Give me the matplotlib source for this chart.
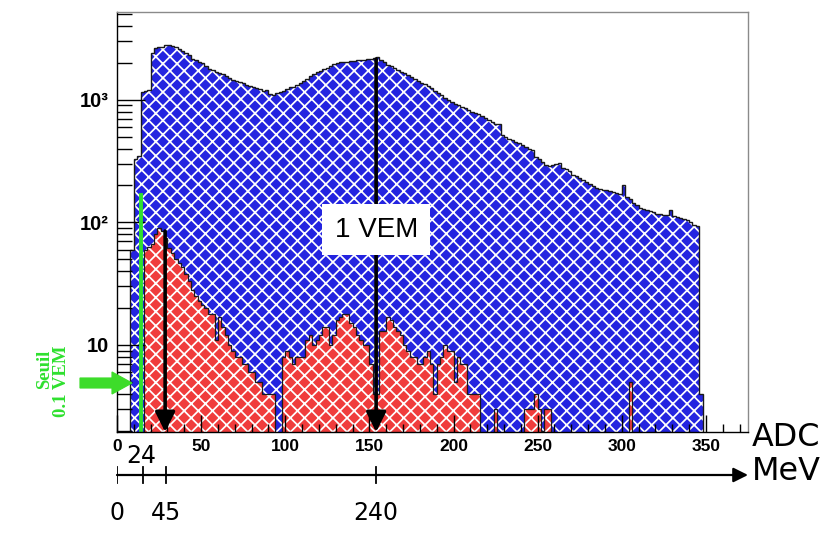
import numpy as np
import matplotlib
matplotlib.use("Agg")
import matplotlib.pyplot as plt
from matplotlib.patches import FancyArrow
from matplotlib.ticker import FixedLocator, MultipleLocator, NullFormatter

# histogram data, bins of 2 ADC
bin_width = 2
blue_start = 8
blue_counts = [
    60, 330, 350, 1150, 1180, 1200, 2420, 2650, 2700, 2710,
    2800, 2810, 2750, 2700, 2600, 2500, 2400, 2300, 2150, 2100,
    2050, 1980, 1900, 1780, 1740, 1700, 1660, 1620, 1560, 1500,
    1460, 1430, 1390, 1370, 1330, 1300, 1270, 1240, 1220, 1180,
    1200, 1120, 1100, 1130, 1160, 1190, 1230, 1260, 1280, 1330,
    1360, 1420, 1480, 1550, 1620, 1680, 1720, 1780, 1830, 1900,
    1950, 2000, 2040, 2040, 2050, 2060, 2060, 2100, 2110, 2130,
    2140, 2150, 2200, 2230, 2100, 2020, 1930, 1870, 1800, 1760,
    1700, 1650, 1600, 1540, 1480, 1430, 1380, 1340, 1300, 1240,
    1190, 1130, 1090, 1040, 1000, 960, 930, 910, 880, 860,
    830, 800, 780, 760, 740, 710, 680, 660, 640, 630,
    520, 500, 480, 470, 450, 440, 430, 410, 400, 390,
    340, 330, 310, 295, 290, 295, 300, 305, 280, 275,
    260, 245, 240, 230, 222, 212, 205, 198, 192, 188,
    184, 182, 180, 178, 172, 170, 200, 160, 155, 145,
    138, 130, 128, 126, 124, 122, 118, 116, 115, 114,
    126, 112, 110, 108, 106, 104, 100, 96, 94, 4,
]
red_start = 16
red_counts = [
    60, 63, 66, 80, 90, 85, 75, 62, 56, 50,
    47, 43, 38, 33, 28, 25, 23, 21, 20, 18,
    18, 11, 17, 14, 12, 10, 9, 8, 8, 7,
    7, 6, 6, 5, 5, 4, 4, 4, 4, 0,
    0, 8, 9, 8, 7, 8, 8, 8, 11, 12,
    10, 11, 12, 14, 14, 10, 12, 16, 17, 18,
    18, 15, 14, 12, 11, 10, 10, 7, 4, 4,
    13, 13, 17, 16, 14, 13, 12, 10, 9, 8,
    8, 7, 7, 8, 9, 7, 4, 7, 8, 10,
    9, 9, 5, 8, 7, 7, 4, 4, 4, 4,
    0, 0, 0, 0, 3, 0, 0, 0, 0, 0,
    0, 0, 0, 3, 3, 3, 4, 3, 2, 3,
    3, 0, 0, 0, 0, 0, 0, 0, 0, 0,
    0, 0, 0, 0, 0, 0, 0, 0, 0, 0,
    0, 0, 0, 0, 5,
]

x_ticks = [0, 50, 100, 150, 200, 250, 300, 350]
y_ticks = [10, 100, 1000]
y_labels = ["10", "10\u00b2", "10\u00b3"]

vem_adc = 154        # 1 VEM position in ADC
vem_mev = 240
seuil_adc = 14       # 0.1 VEM threshold
low_arrow_adc = 28.6
mev_ticks = [0, 24, 45, 240]

BLUE = "#2424e0"
RED = "#f03c3c"
GREEN = "#2fe02f"
floor = 0.1

# dpi 85 gives a finer hatch (about 7 px); K keeps sizes as if at 100 dpi
DPI = 85
K = 100 / DPI
plt.rcParams["hatch.linewidth"] = 1.25 * K

fig = plt.figure(figsize=(825 / DPI, 546 / DPI), dpi=DPI)
ax = fig.add_axes([117 / 825, 114 / 546, 631 / 825, 420 / 546])

blue = np.array(blue_counts, dtype=float)
red = np.array(red_counts, dtype=float)
edges_b = blue_start + bin_width * np.arange(len(blue) + 1)
edges_r = red_start + bin_width * np.arange(len(red) + 1)
blue = np.where(blue > 0, blue, floor)
red = np.where(red > 0, red, floor)

ax.stairs(blue, edges_b, baseline=floor, fill=True, facecolor=BLUE,
          edgecolor="white", hatch="xx", linewidth=0)
ax.stairs(blue, edges_b, baseline=floor, color="#1a1a1a", linewidth=1.0 * K)
ax.stairs(red, edges_r, baseline=floor, fill=True, facecolor=RED,
          edgecolor="white", hatch="xx", linewidth=0)
ax.stairs(red, edges_r, baseline=floor, color="#1a1a1a", linewidth=0.9 * K)

ax.set_yscale("log")
ax.set_xlim(0, 375)
ax.set_ylim(1.95, 5200)

# arrows and threshold line
ymin = ax.get_ylim()[0]
ax.annotate("", xy=(vem_adc, ymin), xytext=(vem_adc, 2150),
            arrowprops=dict(arrowstyle="-|>", color="black", lw=2.6 * K,
                            mutation_scale=30 * K, shrinkA=0, shrinkB=0))
ax.annotate("", xy=(low_arrow_adc, ymin), xytext=(low_arrow_adc, 85),
            arrowprops=dict(arrowstyle="-|>", color="black", lw=2.6 * K,
                            mutation_scale=30 * K, shrinkA=0, shrinkB=0))
ax.plot([seuil_adc, seuil_adc], [ymin, 168], color=GREEN, lw=2.8 * K)

ax.text(vem_adc, 87, "1 VEM", ha="center", va="center", fontsize=20 * K,
        family="Liberation Sans",
        bbox=dict(boxstyle="square,pad=0.45", facecolor="white", edgecolor="none"))

# axes style (ROOT-like)
ax.xaxis.set_major_locator(FixedLocator(x_ticks))
ax.xaxis.set_minor_locator(MultipleLocator(10))
ax.set_yticks(y_ticks, y_labels)
ax.yaxis.set_minor_locator(FixedLocator([m * 10 ** k for k in range(0, 4) for m in range(2, 10)]))
ax.yaxis.set_minor_formatter(NullFormatter())
ax.tick_params(axis="x", which="major", direction="in", length=12 * K, width=K, pad=5 * K)
ax.tick_params(axis="x", which="minor", direction="in", length=6 * K, width=K)
ax.tick_params(axis="y", which="major", direction="in", length=20 * K, width=K, pad=6 * K)
ax.tick_params(axis="y", which="minor", direction="in", length=11 * K, width=K)
for lab in ax.get_xticklabels() + ax.get_yticklabels():
    lab.set_fontweight("bold")
    lab.set_family("Liberation Sans")
for lab in ax.get_xticklabels():
    lab.set_fontsize(12.5 * K)
for lab in ax.get_yticklabels():
    lab.set_fontsize(14.5 * K)
for side in ["left", "bottom"]:
    ax.spines[side].set_linewidth(K)
for side in ["top", "right"]:
    ax.spines[side].set_color("#8a8a8a")
    ax.spines[side].set_linewidth(K)

fig.text(752 / 825, 1 - 437 / 546, "ADC", fontsize=23 * K, va="center", ha="left")

# MeV scale below
axm = fig.add_axes([117 / 825, 1 - 530 / 546, 631 / 825, 100 / 546])
axm.set_xlim(0, 375 * vem_mev / vem_adc)
axm.set_ylim(0, 100)
axm.axis("off")
y_line = 55
axm.annotate("", xy=(375 * vem_mev / vem_adc, y_line), xytext=(0, y_line),
             arrowprops=dict(arrowstyle="-|>", color="black", lw=1.6 * K,
                             mutation_scale=22 * K, shrinkA=0, shrinkB=0))
for m in mev_ticks:
    axm.plot([m, m], [y_line - 8, y_line + 8], color="black", lw=1.3 * K)
for m in mev_ticks:
    if m == 24:
        axm.text(m - 2, 74, str(m), ha="center", va="center", fontsize=17 * K)
    else:
        axm.text(m, 17, str(m), ha="center", va="center", fontsize=17 * K)
fig.text(752 / 825, 1 - 471 / 546, "MeV", fontsize=23 * K, va="center", ha="left")

# threshold marker at the left
fig.add_artist(FancyArrow(80 / 825, 1 - 383 / 546, 52 / 825, 0,
                          width=10 / 546, head_width=22 / 546, head_length=20 / 825,
                          length_includes_head=True, color="#3ddc2a",
                          transform=fig.transFigure))
fig.text(45 / 825, 1 - 369 / 546, "Seuil", rotation=90, color=GREEN,
         fontsize=13.5 * K, fontweight="bold", family="Liberation Serif",
         ha="center", va="center")
fig.text(62 / 825, 1 - 381 / 546, "0.1 VEM", rotation=90, color=GREEN,
         fontsize=13.5 * K, fontweight="bold", family="Liberation Serif",
         ha="center", va="center")

fig.savefig("out.png", dpi=DPI)
